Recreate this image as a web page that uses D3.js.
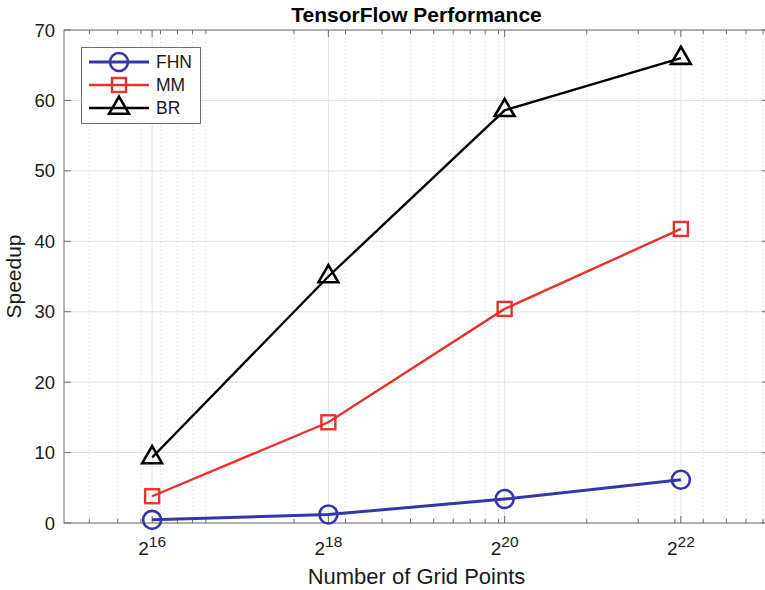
<!DOCTYPE html>
<html>
<head>
<meta charset="utf-8">
<script src="https://cdn.jsdelivr.net/npm/d3@7"></script>
<style>
  body { margin: 0; background: #fff; }
  svg { display: block; font-family: "Liberation Sans", Arial, sans-serif; }
</style>
</head>
<body>
<svg id="chart" width="765" height="590"></svg>
<script>
// grid sizes as powers of two
const exponents = [16, 18, 20, 22];
const seriesNames = ["FHN", "MM", "BR"];
const fhnSpeedup = [0.45, 1.2, 3.4, 6.15];
const mmSpeedup = [3.8, 14.3, 30.4, 41.75];
const brSpeedup = [9.3, 35.0, 58.6, 66.0];
const yTicks = [0, 10, 20, 30, 40, 50, 60, 70];

const series = [
  { name: seriesNames[0], values: fhnSpeedup, color: "#3536a8", width: 3, marker: "circle" },
  { name: seriesNames[1], values: mmSpeedup, color: "#e8322b", width: 2.4, marker: "square" },
  { name: seriesNames[2], values: brSpeedup, color: "#000000", width: 2.4, marker: "triangle" }
];

const svg = d3.select("#chart");
const plotL = 64, plotR = 769, plotT = 30, plotB = 523;

const x = d3.scaleLog().domain([2 ** 15, 2 ** 23]).range([plotL, plotR]);
const y = d3.scaleLinear().domain([0, 70]).range([plotB, plotT]);

const majorX = exponents.map(e => 2 ** e);
const minorX = x.ticks(20).filter(v => v > x.domain()[0] && v < x.domain()[1]);

// grid
const grid = svg.append("g");
grid.selectAll(".minor").data(minorX).join("line")
  .attr("x1", d => x(d)).attr("x2", d => x(d))
  .attr("y1", plotT).attr("y2", plotB)
  .attr("stroke", "#d4d4d4").attr("stroke-width", 1)
  .attr("stroke-dasharray", "1,3");
grid.selectAll(".majx").data(majorX).join("line")
  .attr("x1", d => x(d)).attr("x2", d => x(d))
  .attr("y1", plotT).attr("y2", plotB)
  .attr("stroke", "#e2e2e2").attr("stroke-width", 1);
grid.selectAll(".majy").data(yTicks).join("line")
  .attr("x1", plotL).attr("x2", plotR)
  .attr("y1", d => y(d)).attr("y2", d => y(d))
  .attr("stroke", "#e2e2e2").attr("stroke-width", 1);

// frame and inward ticks
const axis = svg.append("g").attr("stroke", "#6e6e6e").attr("stroke-width", 1);
axis.append("rect")
  .attr("x", plotL).attr("y", plotT)
  .attr("width", plotR - plotL).attr("height", plotB - plotT)
  .attr("fill", "none");
[plotB, plotT].forEach(edge => {
  const dir = edge === plotB ? -1 : 1;
  axis.append("g").selectAll("line").data(minorX).join("line")
    .attr("x1", d => x(d)).attr("x2", d => x(d))
    .attr("y1", edge).attr("y2", edge + dir * 4);
  axis.append("g").selectAll("line").data(majorX).join("line")
    .attr("x1", d => x(d)).attr("x2", d => x(d))
    .attr("y1", edge).attr("y2", edge + dir * 7);
});
[plotL, plotR].forEach(edge => {
  const dir = edge === plotL ? 1 : -1;
  axis.append("g").selectAll("line").data(yTicks).join("line")
    .attr("x1", edge).attr("x2", edge + dir * 7)
    .attr("y1", d => y(d)).attr("y2", d => y(d));
});

// tick labels
svg.append("g").selectAll("text").data(yTicks).join("text")
  .attr("x", plotL - 9).attr("y", d => y(d) + 6.5)
  .attr("text-anchor", "end")
  .attr("font-size", 18.5).attr("fill", "#1a1a1a")
  .text(d => d);

const xl = svg.append("g").selectAll("text").data(exponents).join("text")
  .attr("x", d => x(2 ** d)).attr("y", 555)
  .attr("text-anchor", "middle")
  .attr("font-size", 19).attr("fill", "#1a1a1a");
xl.append("tspan").text("2");
xl.append("tspan").attr("font-size", 15.5).attr("dy", -8).text(d => d);

// titles
svg.append("text")
  .attr("x", (plotL + plotR) / 2).attr("y", 22)
  .attr("text-anchor", "middle")
  .attr("font-size", 21).attr("font-weight", "bold").attr("fill", "#000")
  .text("TensorFlow Performance");
svg.append("text")
  .attr("x", (plotL + plotR) / 2).attr("y", 584)
  .attr("text-anchor", "middle")
  .attr("font-size", 22).attr("fill", "#1a1a1a")
  .text("Number of Grid Points");
svg.append("text")
  .attr("transform", `translate(21,${(plotT + plotB) / 2}) rotate(-90)`)
  .attr("text-anchor", "middle")
  .attr("font-size", 21).attr("fill", "#1a1a1a")
  .text("Speedup");

function drawMarker(g, type, color) {
  if (type === "circle") {
    g.append("circle").attr("r", 9)
      .attr("fill", "none").attr("stroke", color).attr("stroke-width", 2.6);
  } else if (type === "square") {
    g.append("rect").attr("x", -7).attr("y", -7).attr("width", 14).attr("height", 14)
      .attr("fill", "none").attr("stroke", color).attr("stroke-width", 2.4);
  } else {
    g.append("path").attr("d", d3.symbol(d3.symbolTriangle, 170)())
      .attr("fill", "none").attr("stroke", color).attr("stroke-width", 2.6)
      .attr("stroke-linejoin", "miter");
  }
}

// series
const line = d3.line().x(d => x(d.n)).y(d => y(d.v));
series.forEach(s => {
  const pts = exponents.map((e, i) => ({ n: 2 ** e, v: s.values[i] }));
  svg.append("path").datum(pts)
    .attr("d", line)
    .attr("fill", "none").attr("stroke", s.color).attr("stroke-width", s.width);
  pts.forEach(p => {
    const g = svg.append("g").attr("transform", `translate(${x(p.n)},${y(p.v)})`);
    drawMarker(g, s.marker, s.color);
  });
});

// legend
const lg = svg.append("g");
lg.append("rect")
  .attr("x", 81.5).attr("y", 47.5).attr("width", 119).attr("height", 76)
  .attr("fill", "#fff").attr("stroke", "#6e6e6e").attr("stroke-width", 1);
series.forEach((s, i) => {
  const ly = 62 + i * 23;
  lg.append("line")
    .attr("x1", 89).attr("x2", 149).attr("y1", ly).attr("y2", ly)
    .attr("stroke", s.color).attr("stroke-width", s.width);
  drawMarker(lg.append("g").attr("transform", `translate(119,${ly})`), s.marker, s.color);
  lg.append("text")
    .attr("x", 156).attr("y", ly + 6)
    .attr("font-size", 17.5).attr("fill", "#1a1a1a")
    .text(s.name);
});
</script>
</body>
</html>
